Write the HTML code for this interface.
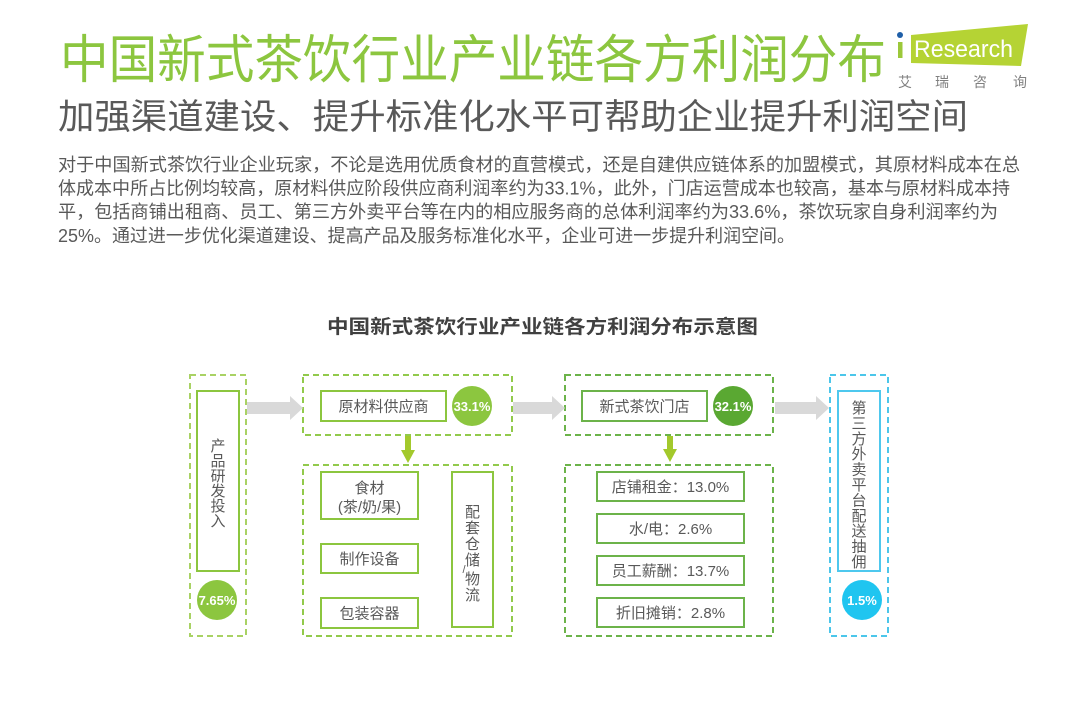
<!DOCTYPE html>
<html>
<head>
<meta charset="utf-8">
<style>
html,body{margin:0;padding:0;background:#fff;}
body{width:1080px;height:707px;overflow:hidden;position:relative;}
svg{position:absolute;left:0;top:0;}
text{font-family:"Liberation Sans","Noto Sans CJK SC",sans-serif;}
</style>
</head>
<body>
<svg width="1080" height="707" viewBox="0 0 1080 707" xmlns="http://www.w3.org/2000/svg">
  <!-- Header -->
  <text x="60" y="78" font-size="52" fill="#8cc63f" textLength="826" lengthAdjust="spacingAndGlyphs">中国新式茶饮行业产业链各方利润分布</text>
  <text x="58" y="129" font-size="35" fill="#595959" textLength="910" lengthAdjust="spacingAndGlyphs">加强渠道建设、提升标准化水平可帮助企业提升利润空间</text>

  <!-- Logo -->
  <polygon points="911,35 1028,24 1021,66 911,63" fill="#b5d334"/>
  <circle cx="900" cy="35" r="3" fill="#1f5fa8"/>
  <rect x="898" y="42" width="4.5" height="16" fill="#9cc83a"/>
  <text x="914" y="57" font-size="24" fill="#fff" textLength="99" lengthAdjust="spacingAndGlyphs">Research</text>
  <g font-size="14" fill="#808080" text-anchor="middle">
    <text x="905" y="87">艾</text>
    <text x="942" y="87">瑞</text>
    <text x="980" y="87">咨</text>
    <text x="1020" y="87">询</text>
  </g>

  <!-- Paragraph -->
  <g font-size="18" fill="#595959">
    <text x="58" y="171" textLength="962" lengthAdjust="spacingAndGlyphs">对于中国新式茶饮行业企业玩家，不论是选用优质食材的直营模式，还是自建供应链体系的加盟模式，其原材料成本在总</text>
    <text x="58" y="194.6" textLength="952" lengthAdjust="spacingAndGlyphs">体成本中所占比例均较高，原材料供应阶段供应商利润率约为33.1%，此外，门店运营成本也较高，基本与原材料成本持</text>
    <text x="58" y="218.2" textLength="940" lengthAdjust="spacingAndGlyphs">平，包括商铺出租商、员工、第三方外卖平台等在内的相应服务商的总体利润率约为33.6%，茶饮玩家自身利润率约为</text>
    <text x="58" y="241.8" textLength="737" lengthAdjust="spacingAndGlyphs">25%。通过进一步优化渠道建设、提高产品及服务标准化水平，企业可进一步提升利润空间。</text>
  </g>

  <!-- Chart title -->
  <text x="327" y="333" font-size="19" font-weight="bold" fill="#404040" textLength="431" lengthAdjust="spacingAndGlyphs">中国新式茶饮行业产业链各方利润分布示意图</text>

  <!-- Dashed containers -->
  <g fill="none" stroke-width="2" stroke-dasharray="6 4">
    <rect x="190" y="375" width="56" height="261" stroke="#a9d264"/>
    <rect x="303" y="375" width="209" height="60" stroke="#92ca4c"/>
    <rect x="303" y="465" width="209" height="171" stroke="#92ca4c"/>
    <rect x="565" y="375" width="208" height="60" stroke="#6cb34a"/>
    <rect x="565" y="465" width="208" height="171" stroke="#6cb34a"/>
    <rect x="830" y="375" width="58" height="261" stroke="#4cc6ea"/>
  </g>

  <!-- Solid inner boxes -->
  <g fill="#fff" stroke-width="2">
    <rect x="197" y="391" width="42" height="180" stroke="#8cc63f"/>
    <rect x="321" y="391" width="125" height="30" stroke="#8cc63f"/>
    <rect x="321" y="472" width="97" height="47" stroke="#8cc63f"/>
    <rect x="321" y="544" width="97" height="29" stroke="#8cc63f"/>
    <rect x="321" y="598" width="97" height="30" stroke="#8cc63f"/>
    <rect x="452" y="472" width="41" height="155" stroke="#8cc63f"/>
    <rect x="582" y="391" width="125" height="30" stroke="#6cb34a"/>
    <rect x="597" y="472" width="147" height="29" stroke="#6cb34a"/>
    <rect x="597" y="514" width="147" height="29" stroke="#6cb34a"/>
    <rect x="597" y="556" width="147" height="29" stroke="#6cb34a"/>
    <rect x="597" y="598" width="147" height="29" stroke="#6cb34a"/>
    <rect x="838" y="391" width="42" height="180" stroke="#4ec8ee"/>
  </g>

  <!-- Gray arrows -->
  <g fill="#d9d9d9">
    <polygon points="247,402 290,402 290,396 303,408 290,420 290,414 247,414"/>
    <polygon points="513,402 552,402 552,396 565,408 552,420 552,414 513,414"/>
    <polygon points="775,402 816,402 816,396 829,408 816,420 816,414 775,414"/>
  </g>

  <!-- Green down arrows -->
  <g fill="#a3c92c">
    <polygon points="405,436 411,436 411,450 415,450 408,463 401,450 405,450"/>
    <polygon points="667,436 673,436 673,449 677,449 670,462 663,449 667,449"/>
  </g>

  <!-- Circles -->
  <circle cx="217" cy="600" r="20" fill="#8cc63f"/>
  <circle cx="472" cy="406" r="20" fill="#8cc63f"/>
  <circle cx="733" cy="406" r="20" fill="#5aa832"/>
  <circle cx="862" cy="600" r="20" fill="#1fc5f0"/>
  <g font-size="13" font-weight="bold" fill="#fff" text-anchor="middle">
    <text x="217" y="605">7.65%</text>
    <text x="472" y="411">33.1%</text>
    <text x="733" y="411">32.1%</text>
    <text x="862" y="605">1.5%</text>
  </g>

  <!-- Box labels -->
  <g font-size="15" fill="#595959" text-anchor="middle">
    <text x="383.5" y="411.5">原材料供应商</text>
    <text x="369.5" y="493">食材</text>
    <text x="369.5" y="512">(茶/奶/果)</text>
    <text x="369.5" y="564">制作设备</text>
    <text x="369.5" y="618.5">包装容器</text>
    <text x="644.5" y="411.5">新式茶饮门店</text>
    <text x="670.5" y="492">店铺租金：13.0%</text>
    <text x="670.5" y="534">水/电：2.6%</text>
    <text x="670.5" y="576">员工薪酬：13.7%</text>
    <text x="670.5" y="618">折旧摊销：2.8%</text>

    <!-- vertical: 产品研发投入 -->
    <text x="218" y="451">产</text>
    <text x="218" y="466">品</text>
    <text x="218" y="481">研</text>
    <text x="218" y="496">发</text>
    <text x="218" y="511">投</text>
    <text x="218" y="526">入</text>

    <!-- vertical: 配套仓储/物流 -->
    <text x="472.5" y="517">配</text>
    <text x="472.5" y="533">套</text>
    <text x="472.5" y="549">仓</text>
    <text x="472.5" y="565">储</text>
    <text x="472.5" y="584">物</text>
    <text x="472.5" y="600">流</text>

    <!-- vertical: 第三方外卖平台配送抽佣 -->
    <text x="859" y="413">第</text>
    <text x="859" y="428.4">三</text>
    <text x="859" y="443.8">方</text>
    <text x="859" y="459.2">外</text>
    <text x="859" y="474.6">卖</text>
    <text x="859" y="490">平</text>
    <text x="859" y="505.4">台</text>
    <text x="859" y="520.8">配</text>
    <text x="859" y="536.2">送</text>
    <text x="859" y="551.6">抽</text>
    <text x="859" y="567">佣</text>
  </g>
  <text x="464" y="573" font-size="11" fill="#595959" text-anchor="middle">/</text>
</svg>
</body>
</html>
